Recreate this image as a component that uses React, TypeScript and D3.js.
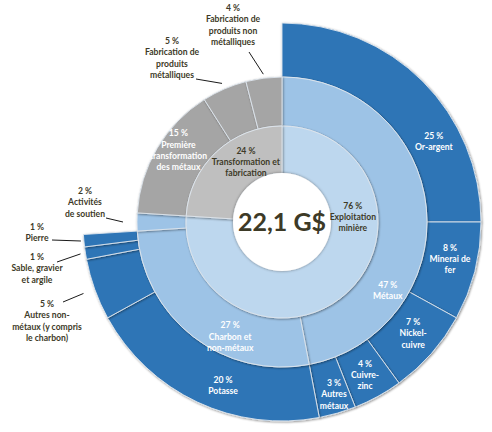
import React from 'react';
import * as d3 from 'd3';

// Valeur ajoutée du secteur minier, 22,1 G$
const totalLabel = '22,1 G$';

const level1Names = ['Exploitation minière', 'Transformation et fabrication'];

const level2Names = [
  'Métaux',
  'Charbon et non-métaux',
  'Activités de soutien',
  'Première transformation des métaux',
  'Fabrication de produits métalliques',
  'Fabrication de produits non métalliques'
];
const level2Parent = [0, 0, 0, 1, 1, 1];
const level2Values = [47, 27, 2, 15, 5, 4];

const level3Names = [
  'Or-argent',
  'Minerai de fer',
  'Nickel-cuivre',
  'Cuivre-zinc',
  'Autres métaux',
  'Potasse',
  'Autres non-métaux (y compris le charbon)',
  'Sable, gravier et argile',
  'Pierre'
];
const level3Parent = [0, 0, 0, 0, 0, 1, 1, 1, 1];
const level3Values = [25, 8, 7, 4, 3, 20, 5, 1, 1];

// how each name is broken into lines
const labelLines: Record<string, string[]> = {
  'Exploitation minière': ['Exploitation', 'minière'],
  'Transformation et fabrication': ['Transformation et', 'fabrication'],
  'Métaux': ['Métaux'],
  'Charbon et non-métaux': ['Charbon et', 'non-métaux'],
  'Activités de soutien': ['Activités', 'de soutien'],
  'Première transformation des métaux': ['Première', 'transformation', 'des métaux'],
  'Fabrication de produits métalliques': ['Fabrication de', 'produits', 'métalliques'],
  'Fabrication de produits non métalliques': ['Fabrication de', 'produits non', 'métalliques'],
  'Or-argent': ['Or-argent'],
  'Minerai de fer': ['Minerai de', 'fer'],
  'Nickel-cuivre': ['Nickel-', 'cuivre'],
  'Cuivre-zinc': ['Cuivre-', 'zinc'],
  'Autres métaux': ['Autres', 'métaux'],
  'Potasse': ['Potasse'],
  'Autres non-métaux (y compris le charbon)': ['Autres non-', 'métaux (y compris', 'le charbon)'],
  'Sable, gravier et argile': ['Sable, gravier', 'et argile'],
  'Pierre': ['Pierre']
};

const W = 492;
const H = 432;
const cx = 282;
const cy = 222;
const radii = [49, 96, 145, 199];

const FONT = 'Lato, "Open Sans", sans-serif';
const DARK = '#3d3a27';
const FS = 8.6;
const LH = 11.4;

// in-ring label anchor: [angle in degrees clockwise from top, radius]
const inside: Record<string, [number, number]> = {
  'Exploitation minière': [86, 71],
  'Transformation et fabrication': [329, 70],
  'Métaux': [122.9, 126],
  'Charbon et non-métaux': [204.3, 126],
  'Première transformation des métaux': [304.7, 126],
  'Or-argent': [62, 172],
  'Minerai de fer': [102.4, 172],
  'Nickel-cuivre': [130.3, 172],
  'Cuivre-zinc': [151.5, 174],
  'Autres métaux': [163.2, 180],
  'Potasse': [199.8, 174]
};

// outside labels: text block centre x, first line y, leader start, leader end radius
const outside: Record<string, { x: number; y: number; from: [number, number]; r: number }> = {
  'Fabrication de produits non métalliques': { x: 233, y: 8, from: [249, 52], r: 149 },
  'Fabrication de produits métalliques': { x: 172, y: 41, from: [196, 79], r: 151 },
  'Activités de soutien': { x: 85, y: 191, from: [106, 218], r: 159 },
  'Pierre': { x: 37, y: 227, from: [52, 240], r: 202 },
  'Sable, gravier et argile': { x: 37, y: 257, from: [57, 262], r: 204 },
  'Autres non-métaux (y compris le charbon)': { x: 47, y: 304, from: [63, 302], r: 211 }
};

interface Node {
  name: string;
  value?: number;
  children?: Node[];
}

function buildTree(): Node {
  return {
    name: 'root',
    children: level1Names.map((name, i) => ({
      name,
      children: level2Names
        .map((n2, j) => ({ n2, j }))
        .filter(({ j }) => level2Parent[j] === i)
        .map(({ n2, j }) => {
          const kids = level3Names
            .map((n3, k) => ({ n3, k }))
            .filter(({ k }) => level3Parent[k] === j);
          if (kids.length === 0) return { name: n2, value: level2Values[j] };
          return {
            name: n2,
            children: kids.map(({ n3, k }) => ({ name: n3, value: level3Values[k] }))
          };
        })
    }))
  };
}

const blueFill = ['#BDD7EE', '#9DC3E6', '#2E75B6'];
const grayFill = ['#BFBFBF', '#A5A5A5', '#A5A5A5'];

const polar = (deg: number, r: number): [number, number] => {
  const a = (deg * Math.PI) / 180;
  return [cx + r * Math.sin(a), cy - r * Math.cos(a)];
};

export default function App() {
  const root = d3
    .hierarchy<Node>(buildTree())
    .sum(d => (d.children ? 0 : d.value || 0));
  d3.partition<Node>().size([2 * Math.PI, 1])(root);
  const nodes = root.descendants().filter(d => d.depth > 0) as d3.HierarchyRectangularNode<Node>[];

  const arc = d3
    .arc<d3.HierarchyRectangularNode<Node>>()
    .startAngle(d => d.x0)
    .endAngle(d => d.x1)
    .innerRadius(d => radii[d.depth - 1])
    .outerRadius(d => radii[d.depth]);

  const topIndex = (d: d3.HierarchyNode<Node>) => {
    let n = d;
    while (n.depth > 1 && n.parent) n = n.parent;
    return level1Names.indexOf(n.data.name);
  };

  const fillOf = (d: d3.HierarchyNode<Node>) =>
    (topIndex(d) === 0 ? blueFill : grayFill)[d.depth - 1];

  const textFill = (d: d3.HierarchyNode<Node>) => {
    if (d.depth === 1) return DARK;
    return '#ffffff';
  };

  const renderLines = (x: number, y0: number, lines: string[], fill: string, key: string) => (
    <text key={key} x={x} fill={fill} fontFamily={FONT} fontWeight={700} fontSize={FS} textAnchor="middle">
      {lines.map((l, i) => (
        <tspan key={i} x={x} y={y0 + i * LH + FS * 0.35}>
          {l}
        </tspan>
      ))}
    </text>
  );

  return (
    <svg width={W} height={H} style={{ position: 'absolute', left: 0, top: 0, background: '#fff' }}>
      <defs>
        <filter id="shadow" x="-20%" y="-20%" width="140%" height="140%">
          <feDropShadow dx="0.8" dy="0.9" stdDeviation="1" floodColor="#000" floodOpacity="0.45" />
        </filter>
        <filter id="cshadow" x="-30%" y="-30%" width="160%" height="160%">
          <feDropShadow dx="0" dy="0" stdDeviation="1.6" floodColor="#000" floodOpacity="0.45" />
        </filter>
      </defs>

      <g transform={`translate(${cx},${cy})`}>
        {[3, 2, 1].map(depth =>
          nodes
            .filter(d => d.depth === depth)
            .map(d => (
              <path
                key={d.data.name}
                d={arc(d) || ''}
                fill={fillOf(d)}
                stroke="#dfe6ee"
                strokeWidth={0.9}
                filter="url(#shadow)"
              />
            ))
        )}
        <circle r={radii[0]} fill="#ffffff" filter="url(#cshadow)" />
      </g>

      <text
        x={cx}
        y={cy + 8.5}
        textAnchor="middle"
        fontFamily={FONT}
        fontWeight={700}
        fontSize={25}
        fill={DARK}
      >
        {totalLabel}
      </text>

      {nodes.map(d => {
        const name = d.data.name;
        const lines = [`${d.value} %`, ...(labelLines[name] || [name])];
        if (inside[name]) {
          const [a, r] = inside[name];
          const [x, y] = polar(a, r);
          const y0 = y - ((lines.length - 1) * LH) / 2;
          return renderLines(x, y0, lines, textFill(d), name);
        }
        const o = outside[name];
        if (!o) return null;
        const mid = (((d.x0 + d.x1) / 2) * 180) / Math.PI;
        const [ex, ey] = polar(mid, o.r);
        return (
          <g key={name}>
            <line x1={o.from[0]} y1={o.from[1]} x2={ex} y2={ey} stroke="#1a1a1a" strokeWidth={1} />
            {renderLines(o.x, o.y, lines, DARK, name + '-t')}
          </g>
        );
      })}
    </svg>
  );
}
